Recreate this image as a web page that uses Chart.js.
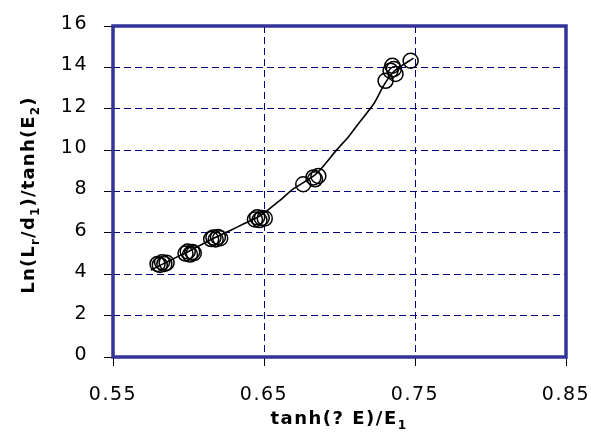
<!DOCTYPE html>
<html>
<head>
<meta charset="utf-8">
<script src="https://cdn.jsdelivr.net/npm/chart.js@4"></script>
<style>
  html, body { margin: 0; padding: 0; background: #fff; }
  #wrap { width: 591px; height: 433px; }
</style>
</head>
<body>
<div id="wrap"><canvas id="chart" width="591" height="433"></canvas></div>
<script>
// axis ticks
const xTicks = [0.55, 0.65, 0.75, 0.85];
const yTicks = [0, 2, 4, 6, 8, 10, 12, 14, 16];

// measured points (circles)
const ptsX = [0.5795, 0.581, 0.5825, 0.584, 0.5855,
    0.598, 0.5995, 0.601, 0.6025, 0.6035,
    0.615, 0.6165, 0.618, 0.6195, 0.621,
    0.644, 0.6455, 0.647, 0.6485, 0.6505,
    0.676, 0.6827, 0.6838, 0.686,
    0.7305, 0.7338, 0.735, 0.736, 0.7371, 0.7471];
const ptsY = [4.5, 4.45, 4.58, 4.5, 4.55,
    5.0, 5.1, 4.95, 5.08, 5.02,
    5.7, 5.78, 5.68, 5.8, 5.74,
    6.65, 6.75, 6.62, 6.72, 6.7,
    8.35, 8.68, 8.59, 8.75,
    13.35, 13.84, 14.08, 13.92, 13.68, 14.32];

// trend line
const fitX = [0.575, 0.590, 0.600, 0.617, 0.628, 0.637, 0.648, 0.662, 0.669, 0.6845, 0.698, 0.706, 0.7116, 0.7227, 0.7293, 0.736, 0.749];
const fitY = [4.2, 4.75, 5.1, 5.75, 6.13, 6.45, 6.85, 7.66, 8.1, 8.85, 10.0, 10.65, 11.19, 12.24, 13.13, 13.8, 14.45];

const tickFont = { family: "'DejaVu Sans'", size: 19 };
const gridColor = "#000080";

// draw text with subscripts, centred on (0,0) of current transform
function drawRich(ctx, parts, size) {
    const big = "bold " + size + "px 'DejaVu Sans'";
    const small = "bold " + Math.round(size * 0.68) + "px 'DejaVu Sans'";
    let total = 0;
    parts.forEach((p) => {
        ctx.font = p.sub ? small : big;
        p.w = ctx.measureText(p.t).width;
        total += p.w;
    });
    let x = -total / 2;
    parts.forEach((p) => {
        ctx.font = p.sub ? small : big;
        ctx.fillText(p.t, x, p.sub ? 5 : 0);
        x += p.w;
    });
}

const frameAndTitles = {
    id: "frameAndTitles",
    beforeDraw(chart) {
        chart.ctx.letterSpacing = "1.5px";
    },
    afterDatasetsDraw(chart) {
        const { ctx, chartArea: { left, top, right, bottom } } = chart;
        ctx.save();
        ctx.strokeStyle = "#333399";
        ctx.lineWidth = 3.5;
        ctx.strokeRect(left, top, right - left, bottom - top);
        ctx.restore();

        ctx.save();
        ctx.fillStyle = "#000";
        ctx.textBaseline = "alphabetic";
        ctx.textAlign = "left";
        ctx.letterSpacing = "1.5px";
        ctx.translate(339, 423.5);
        drawRich(ctx, [{ t: "tanh(? E)/E" }, { t: "1", sub: true }], 18);
        ctx.restore();

        ctx.save();
        ctx.fillStyle = "#000";
        ctx.textBaseline = "alphabetic";
        ctx.textAlign = "left";
        ctx.letterSpacing = "1.2px";
        ctx.translate(33.5, 195);
        ctx.rotate(-Math.PI / 2);
        drawRich(ctx, [
            { t: "Ln(L" }, { t: "r", sub: true }, { t: "/d" }, { t: "1", sub: true },
            { t: ")/tanh(E" }, { t: "2", sub: true }, { t: ")" },
        ], 18);
        ctx.restore();
    },
};

const config = {
    type: "scatter",
    data: {
        datasets: [
            {
                label: "fit",
                data: fitX.map((x, i) => ({ x: x, y: fitY[i] })),
                showLine: true,
                borderColor: "#000",
                borderWidth: 1.6,
                pointRadius: 0,
                tension: 0.25,
            },
            {
                label: "data",
                data: ptsX.map((x, i) => ({ x: x, y: ptsY[i] })),
                pointStyle: "circle",
                pointRadius: 7.5,
                borderColor: "#000",
                borderWidth: 1.5,
                backgroundColor: "rgba(0,0,0,0)",
            },
        ],
    },
    options: {
        responsive: false,
        animation: false,
        layout: { padding: { top: 26, right: 25, left: 0, bottom: 0 } },
        plugins: {
            legend: { display: false },
            tooltip: { enabled: false },
        },
        scales: {
            x: {
                type: "linear",
                min: 0.55,
                max: 0.85,
                afterBuildTicks: (scale) => {
                    scale.ticks = xTicks.map((v) => ({ value: v }));
                },
                afterFit: (scale) => {
                    scale.height = 76;
                    scale.paddingLeft = 0;
                    scale.paddingRight = 0;
                },
                ticks: {
                    font: tickFont,
                    color: "#000",
                    padding: 18,
                    maxRotation: 0,
                    callback: (v) => v.toFixed(2),
                },
                grid: {
                    color: gridColor,
                    lineWidth: 1,
                    tickColor: "#000",
                    tickLength: 9,
                    tickBorderDash: [],
                },
                border: { display: false, dash: [7, 4] },
            },
            y: {
                min: 0,
                max: 16,
                afterBuildTicks: (scale) => {
                    scale.ticks = yTicks.map((v) => ({ value: v }));
                },
                afterFit: (scale) => {
                    scale.width = 113;
                    scale.paddingTop = 0;
                    scale.paddingBottom = 0;
                },
                ticks: {
                    font: tickFont,
                    color: "#000",
                    padding: 16,
                    labelOffset: -2,
                },
                grid: {
                    color: gridColor,
                    lineWidth: 1,
                    tickColor: "#000",
                    tickLength: 9,
                    tickBorderDash: [],
                },
                border: { display: false, dash: [7, 4] },
            },
        },
    },
    plugins: [frameAndTitles],
};

var ctx = document.getElementById("chart").getContext("2d");
var chart = new Chart(ctx, config);
</script>
</body>
</html>
